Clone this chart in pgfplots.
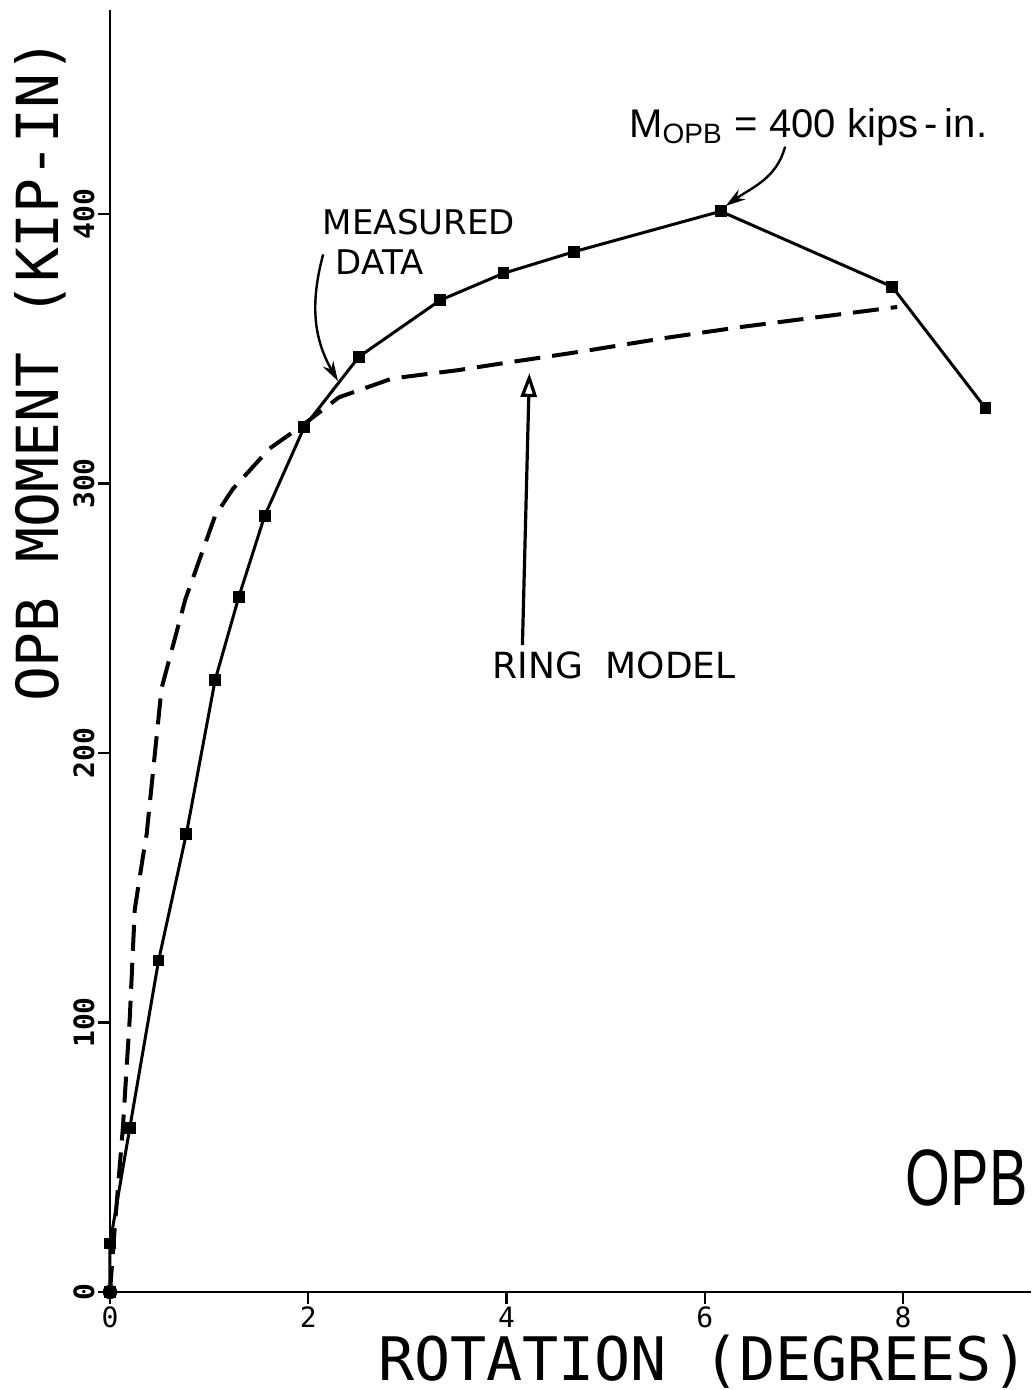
\documentclass[border=0pt]{standalone}
\usepackage{fontspec}
\usepackage{graphicx}
\usepackage{pgfplots}
\pgfplotsset{compat=1.18}
\usetikzlibrary{arrows.meta}
\newfontfamily\plotfont{DejaVu Sans Mono}
\newfontfamily\helv{Liberation Sans}
\newfontfamily\dvs{DejaVu Sans}
\begin{document}
\begin{tikzpicture}
\begin{axis}[
  at={(0,0)}, anchor=south west,
  scale only axis, width=230.25pt, height=320.5pt,
  xmin=0, xmax=9.29, ymin=0, ymax=475.7,
  axis lines*=left,
  axis line style={line width=0.7pt},
  xtick={0,2,4,6,8}, ytick={0,100,200,300,400},
  tick align=outside, major tick length=3pt,
  tick style={line width=0.6pt, black},
  /pgf/number format/assume math mode=true,
  tick label style={font=\plotfont\fontsize{7}{7}\selectfont},
  xticklabel style={inner sep=0.5pt},
  yticklabel style={xshift=0.3pt, rotate=90, anchor=south, inner sep=1pt, font=\plotfont\bfseries\fontsize{7}{7}\selectfont},
  xlabel={ROTATION (DEGREES)}, ylabel={OPB MOMENT (KIP-IN)},
  label style={font=\plotfont\fontsize{14.5}{14.5}\selectfont},
  xlabel style={font=\plotfont\fontsize{15}{15}\selectfont, inner sep=0pt, at={(axis description cs:0.644,-0.0545)}, anchor=center},
  ylabel style={at={(axis description cs:-0.076,0.719)}, anchor=center},
  clip=false,
]
% Ring model (dashed)
\addplot[black, line width=1pt, dash pattern=on 6.5pt off 3pt] coordinates {
(0,0) (0.05,25) (0.13,61) (0.2,102) (0.25,142) (0.33,161) (0.37,170)
(0.52,224) (0.76,257) (1.06,288) (1.24,298) (1.61,313) (1.92,321)
(2.31,332) (2.85,339) (3.5,342) (3.96,344.6) (4.76,349) (5.6,354)
(6.35,358) (7.94,365.5)};
% Measured data
\addplot[black, line width=0.75pt, mark=square*, mark size=1.1pt] coordinates {
(0,0) (0,18) (0.2,61) (0.49,123) (0.77,170) (1.06,227) (1.30,258)
(1.56,288) (1.96,321) (2.51,347) (3.33,368) (3.97,378) (4.68,386)
(6.16,401) (7.89,373) (8.83,328)};
\addplot[black, only marks, mark=*, mark size=1.6pt] coordinates {(0,0)};
% annotations
\node[anchor=west, inner sep=0, font=\dvs\fontsize{8.5}{8.5}\selectfont] at (axis cs:2.14,397) {MEASURED};
\node[anchor=west, inner sep=0, font=\dvs\fontsize{8.5}{8.5}\selectfont] at (axis cs:2.27,382) {DATA};
\draw[line width=0.6pt, -{Stealth[length=5pt,width=3pt]}] (axis cs:2.15,385) to[out=255, in=120] (axis cs:2.30,338);
\node[anchor=west, inner sep=0, font=\dvs\fontsize{9}{9}\selectfont] at (axis cs:3.85,232.6) {RING\ \ MODEL};
\draw[line width=0.8pt, -{Triangle[open, length=6pt, width=4pt]}] (axis cs:4.16,240) -- (axis cs:4.23,341);
\node[anchor=base west, inner sep=0, font=\helv\fontsize{10}{10}\selectfont] at (axis cs:5.23,428.5) {M\textsubscript{OPB} = 400 kips\,-\,in.};
\draw[line width=0.6pt, -{Stealth[length=5pt,width=3pt]}] (axis cs:6.81,425) to[out=255, in=35] (axis cs:6.21,403);
\node[anchor=west, inner sep=0, font=\helv\fontsize{20}{20}\selectfont] at (axis cs:8.02,42.3) {\scalebox{0.72}[1]{OPB}};
\end{axis}
\pgfresetboundingbox
\path[use as bounding box] (-27.5pt,-24.5pt) rectangle (230.25pt,323pt);
\end{tikzpicture}
\end{document}
